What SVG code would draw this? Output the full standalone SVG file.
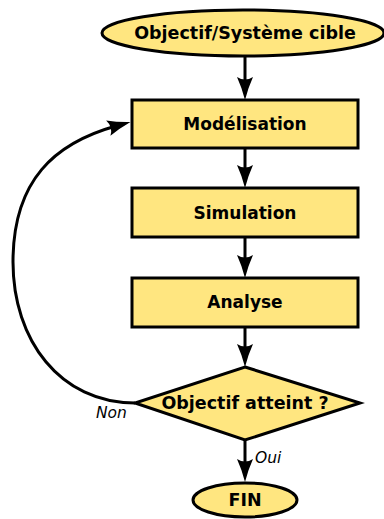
<svg xmlns="http://www.w3.org/2000/svg" width="384" height="519" viewBox="0 0 384 519">
<style>
.box{fill:#ffe680;stroke:#000;stroke-width:3}
.lbl{font-family:"DejaVu Sans",sans-serif;font-weight:bold;font-size:17.5px;text-anchor:middle;fill:#000}
.sm{font-size:17px}
.it{font-family:"DejaVu Sans",sans-serif;font-style:italic;font-size:15.5px;fill:#000}
.con{fill:none;stroke:#000;stroke-width:3;marker-end:url(#arr)}
</style>
<defs>
<marker id="arr" markerUnits="userSpaceOnUse" orient="auto" refX="0" refY="0" markerWidth="40" markerHeight="40" overflow="visible">
<path d="M15,0 Q3,-3 -8,-8 Q-3,0 -8,8 Q3,3 15,0 Z" fill="#000"/>
</marker>
</defs>
<rect width="384" height="519" fill="#fff"/>
<g id="connectors">
<path class="con" d="M245,57 V85"/>
<path class="con" d="M245,148 V173"/>
<path class="con" d="M245,237 V263"/>
<path class="con" d="M245,327 V352"/>
<path class="con" d="M245,440 V467"/>
<path class="con" d="M135,403 C60,403 13,340 13,262 C13,180 55,143 116,126"/>
</g>
<g id="start">
<ellipse class="box" cx="243" cy="33" rx="141" ry="23"/>
<text class="lbl" x="245" y="39">Objectif/Système cible</text>
</g>
<g id="modelisation">
<rect class="box" x="132" y="100" width="226" height="48"/>
<text class="lbl sm" x="245" y="130">Modélisation</text>
</g>
<g id="simulation">
<rect class="box" x="132" y="188" width="226" height="49"/>
<text class="lbl sm" x="245" y="219">Simulation</text>
</g>
<g id="analyse">
<rect class="box" x="132" y="278" width="226" height="49"/>
<text class="lbl sm" x="245" y="308">Analyse</text>
</g>
<g id="decision">
<polygon class="box" points="245,367 360,403 245,440 135,403"/>
<text class="lbl" x="245" y="409">Objectif atteint ?</text>
</g>
<g id="fin">
<ellipse class="box" cx="245" cy="500" rx="52" ry="17"/>
<text class="lbl" x="245" y="506">FIN</text>
</g>
<text class="it" x="96" y="418">Non</text>
<text class="it" x="255" y="463">Oui</text>
</svg>
